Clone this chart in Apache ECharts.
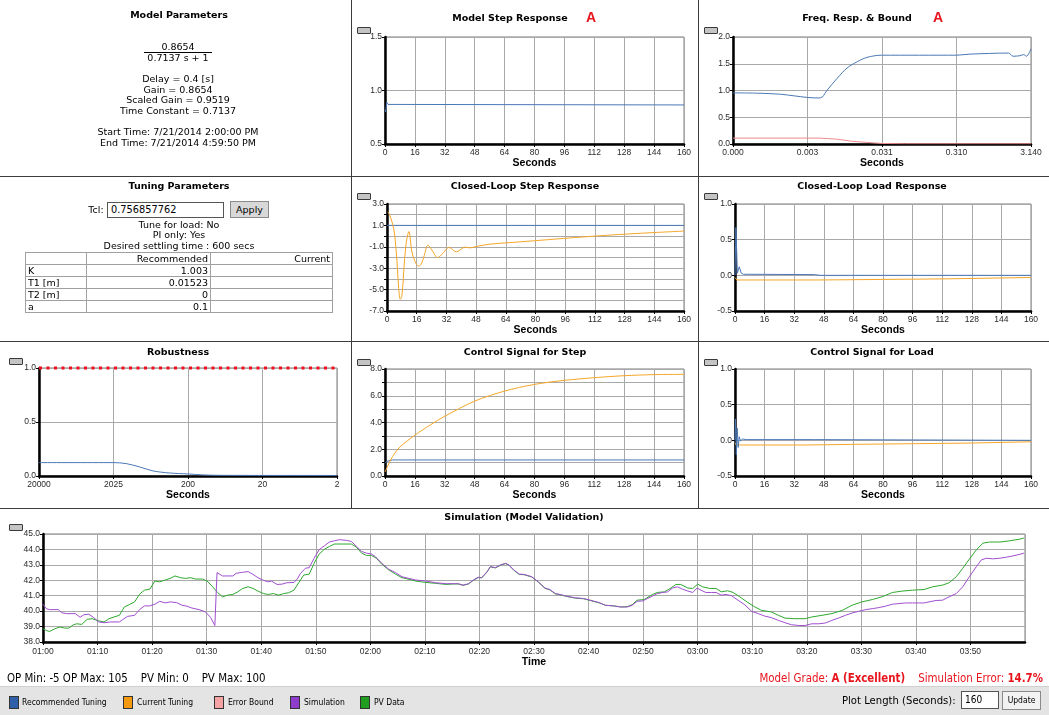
<!DOCTYPE html>
<html>
<head>
<meta charset="utf-8">
<title>Model Validation</title>
<script src="https://cdn.jsdelivr.net/npm/echarts@6/dist/echarts.min.js"></script>
<style>
  html, body { margin:0; padding:0; background:#fff; }
  #page { position:relative; width:1049px; height:715px; overflow:hidden;
          font-family:"DejaVu Sans", Verdana, sans-serif; color:#000; }
  #chart { position:absolute; left:0; top:0; width:1049px; height:715px; }
  .lab { position:absolute; white-space:nowrap; transform:translate(-50%,-50%); font-size:9.5px; line-height:1; }
  .ttl { font-weight:bold; font-size:9.5px; }
  .grade { color:#e8141c; font-family:"Liberation Sans", Arial, sans-serif; font-weight:bold; font-size:14px; }
  .vline { position:absolute; width:1px; background:#3c3c3c; }
  .hline { position:absolute; height:1px; background:#3c3c3c; }
  .btn { position:absolute; width:12px; height:5px; background:#c4c4c4; border:1px solid #3a3a3a; border-radius:1px; }
  #tune { position:absolute; left:25px; top:252px; width:308px; border-collapse:collapse; font-size:9.5px; }
  #tune td { border:1px solid #a0a0a0; height:11px; line-height:11px; padding:0 2px; }
  #tune td.n { text-align:right; }
  .box { position:absolute; background:#fff; border:1px solid #555; box-sizing:border-box; }
  .pbtn { position:absolute; background:#d8d8d8; border:1px solid #8a8a8a; box-sizing:border-box; text-align:center; }
  #bar { position:absolute; left:0; top:686px; width:1049px; height:29px; background:#e4e4e4; border-top:1px solid #d0d0d0; }
  .sw { position:absolute; top:9px; width:8px; height:11px; border:1px solid #333; }
  .lg { position:absolute; top:9px; font-family:"DejaVu Sans Condensed","DejaVu Sans",sans-serif; font-size:8.5px; line-height:13px; white-space:nowrap; }
  .info { position:absolute; top:672px; font-family:"DejaVu Sans Condensed","DejaVu Sans",sans-serif; font-size:11.4px; line-height:13px; white-space:nowrap; }
</style>
</head>
<body>
<div id="page">
  <div id="chart"></div>

  <!-- panel separators -->
  <div class="vline" style="left:351px;top:0;height:508px;"></div>
  <div class="vline" style="left:698px;top:0;height:508px;"></div>
  <div class="hline" style="left:0;top:176px;width:1049px;"></div>
  <div class="hline" style="left:0;top:341px;width:1049px;"></div>
  <div class="hline" style="left:0;top:508px;width:1049px;"></div>

  <!-- model parameters -->
  <div class="lab ttl" style="left:179px;top:15px;">Model Parameters</div>
  <div class="lab" style="left:178px;top:47px;">0.8654</div>
  <div class="hline" style="left:144px;top:52px;width:68px;background:#000;"></div>
  <div class="lab" style="left:178px;top:58px;">0.7137 s + 1</div>
  <div class="lab" style="left:178px;top:79px;">Delay = 0.4 [s]</div>
  <div class="lab" style="left:178px;top:89.5px;">Gain = 0.8654</div>
  <div class="lab" style="left:178px;top:100px;">Scaled Gain = 0.9519</div>
  <div class="lab" style="left:178px;top:110.5px;">Time Constant = 0.7137</div>
  <div class="lab" style="left:178px;top:132px;">Start Time: 7/21/2014 2:00:00 PM</div>
  <div class="lab" style="left:178px;top:142.5px;">End Time: 7/21/2014 4:59:50 PM</div>

  <!-- tuning parameters -->
  <div class="lab ttl" style="left:179px;top:186px;">Tuning Parameters</div>
  <div class="lab" style="left:96px;top:210px;">Tcl:</div>
  <div class="box" style="left:107px;top:202px;width:117px;height:16px;font-size:9.8px;line-height:14px;padding-left:3px;">0.756857762</div>
  <div class="pbtn" style="left:230px;top:201px;width:39px;height:17px;font-size:9.5px;line-height:15px;">Apply</div>
  <div class="lab" style="left:179px;top:224.5px;">Tune for load: No</div>
  <div class="lab" style="left:179px;top:235px;">PI only: Yes</div>
  <div class="lab" style="left:179px;top:245.5px;">Desired settling time : 600 secs</div>
  <table id="tune">
    <tr><td style="width:56px;"></td><td class="n" style="width:119px;">Recommended</td><td class="n">Current</td></tr>
    <tr><td>K</td><td class="n">1.003</td><td></td></tr>
    <tr><td>T1 [m]</td><td class="n">0.01523</td><td></td></tr>
    <tr><td>T2 [m]</td><td class="n">0</td><td></td></tr>
    <tr><td>a</td><td class="n">0.1</td><td></td></tr>
  </table>

  <!-- chart titles -->
  <div class="lab ttl" style="left:510px;top:18px;">Model Step Response</div>
  <div class="lab grade" style="left:591px;top:17px;">A</div>
  <div class="lab ttl" style="left:857px;top:18px;">Freq. Resp. &amp; Bound</div>
  <div class="lab grade" style="left:938px;top:17px;">A</div>
  <div class="lab ttl" style="left:525px;top:186px;">Closed-Loop Step Response</div>
  <div class="lab ttl" style="left:872px;top:186px;">Closed-Loop Load Response</div>
  <div class="lab ttl" style="left:178px;top:352px;">Robustness</div>
  <div class="lab ttl" style="left:525px;top:352px;">Control Signal for Step</div>
  <div class="lab ttl" style="left:872px;top:352px;">Control Signal for Load</div>
  <div class="lab ttl" style="left:524px;top:517px;">Simulation (Model Validation)</div>

  <!-- small toggle buttons -->
  <div class="btn" style="left:357px;top:27px;"></div>
  <div class="btn" style="left:704px;top:27px;"></div>
  <div class="btn" style="left:357px;top:193px;"></div>
  <div class="btn" style="left:704px;top:193px;"></div>
  <div class="btn" style="left:9px;top:358px;"></div>
  <div class="btn" style="left:357px;top:359px;"></div>
  <div class="btn" style="left:704px;top:359px;"></div>
  <div class="btn" style="left:9px;top:524px;"></div>

  <!-- footer -->
  <div class="info" style="left:7px;">OP Min: -5 OP Max: 105&nbsp;&nbsp;&nbsp; PV Min: 0&nbsp;&nbsp;&nbsp; PV Max: 100</div>
  <div class="info" style="right:6px;color:#e8141c;">Model Grade: <b>A (Excellent)</b>&nbsp;&nbsp;&nbsp; Simulation Error: <b>14.7%</b></div>
  <div id="bar">
    <div class="sw" style="left:9px;background:#2f5fa8;"></div><div class="lg" style="left:22px;">Recommended Tuning</div>
    <div class="sw" style="left:123px;background:#f39a12;"></div><div class="lg" style="left:137px;">Current Tuning</div>
    <div class="sw" style="left:214px;background:#f5a3a3;"></div><div class="lg" style="left:228px;">Error Bound</div>
    <div class="sw" style="left:290px;background:#8d3ccc;"></div><div class="lg" style="left:304px;">Simulation</div>
    <div class="sw" style="left:360px;background:#1f9e1f;"></div><div class="lg" style="left:374px;">PV Data</div>
    <div class="lg" style="left:842px;top:6px;font-size:11.2px;line-height:15px;">Plot Length (Seconds):</div>
    <div class="box" style="left:961px;top:4px;width:38px;height:18px;font-size:10px;line-height:16px;padding-left:3px;font-family:'DejaVu Sans Condensed',sans-serif;">160</div>
    <div class="pbtn" style="left:1002px;top:4px;width:39px;height:19px;font-size:8.5px;line-height:17px;background:#f2f2f2;font-family:'DejaVu Sans Condensed',sans-serif;">Update</div>
  </div>
</div>

<script>
// ---- tick labels ----
const freqTicks = ['0.000', '0.003', '0.031', '0.310', '3.140'];
const robustTicks = ['20000', '2025', '200', '20', '2'];

// ---- model step response (t [s], output) ----
const modelStep = [[0, 0.82], [0.4, 0.80], [0.9, 0.89], [1.6, 0.87], [2.6, 0.865], [160, 0.865]];

// ---- frequency response & bound (decade index, magnitude) ----
const freqResp = [[0, 0.956], [0.33, 0.95], [0.64, 0.93], [0.82, 0.9], [1.0, 0.87], [1.15, 0.86], [1.2, 0.88],
  [1.26, 1.0], [1.4, 1.23], [1.53, 1.42], [1.67, 1.54], [1.8, 1.62], [1.99, 1.66], [2.5, 1.66], [3.0, 1.66],
  [3.18, 1.68], [3.7, 1.70], [3.76, 1.64], [3.85, 1.65], [3.9, 1.67], [3.94, 1.64], [4.0, 1.78]];
const freqBound = [[0, 0.11], [1.17, 0.11], [1.4, 0.09], [1.6, 0.05], [1.8, 0.03], [1.99, 0.01], [2.3, 0.004], [4.0, 0.004]];

// ---- closed-loop step response ----
const clStepRec = [[0, 1.0], [160, 1.0]];
const clStepCur = [[0.5, 2.28], [1.8, 1.8], [3.6, 0.72], [4.5, -0.53], [5.4, -2.4], [6.3, -4.9], [7.2, -5.9],
  [8.1, -5.5], [9.0, -3.3], [10.2, -0.85], [11.8, 0.42], [13.4, -1.47], [15.2, -2.4], [17.0, -2.8], [18.5, -2.6],
  [20.1, -1.8], [22.0, -0.85], [24.2, -1.3], [27.2, -2.0], [29.6, -1.7], [33.5, -1.06], [37.3, -1.47],
  [42.1, -1.03], [44.8, -1.1], [48, -0.97], [55.6, -0.75], [64.5, -0.63], [79, -0.44], [95, -0.22],
  [112, 0.0], [129, 0.19], [145, 0.34], [160, 0.47]];

// ---- closed-loop load response ----
const clLoadRec = [[0, 0], [0.5, 0.67], [1.3, 0.03], [2.3, 0.12], [3.4, 0.03], [4.5, 0.015], [43, 0.01], [46, 0], [160, 0]];
const clLoadCur = [[0, -0.03], [1, -0.065], [46, -0.065], [47, -0.05], [113, -0.05], [114, -0.03], [160, -0.03]];

// ---- robustness ----
const robustVal = [[0, 0.124], [1.0, 0.124], [1.17, 0.115], [1.35, 0.084], [1.53, 0.047], [1.75, 0.028],
  [2.0, 0.019], [2.2, 0.01], [2.5, 0.006], [4.0, 0.005]];
const robustLimit = [[0, 1], [4, 1]];

// ---- control signal for step ----
const ctlStepRec = [[0, 0.95], [1, 1.1], [2, 1.15], [4, 1.2], [160, 1.2]];
const ctlStepCur = [[0, 0.3], [2, 0.9], [4, 1.45], [8, 2.17], [16, 3.05], [24, 3.8], [32, 4.47], [48, 5.6],
  [64, 6.35], [80, 6.85], [96, 7.15], [112, 7.35], [128, 7.5], [144, 7.58], [160, 7.6]];

// ---- control signal for load ----
const ctlLoadRec = [[0, 0], [0.3, 0.3], [0.7, -0.2], [1.2, 0.17], [1.7, -0.1], [2.3, 0.05], [3, -0.01],
  [4, 0.02], [6, 0.01], [43, 0.01], [44, 0], [160, 0]];
const ctlLoadCur = [[0, -0.03], [0.5, -0.065], [39, -0.065], [40, -0.056], [66, -0.056], [67, -0.038],
  [128, -0.038], [129, -0.02], [160, -0.02]];

// ---- simulation vs PV data (minutes after 01:00, value) ----
const simValues = [[0, 40.45], [0.6, 40.16], [1.2, 40.1], [2.8, 40.1], [3.4, 39.9], [4.3, 39.84], [5.9, 39.84],
  [6.8, 39.6], [7.5, 39.77], [8.4, 39.8], [9.3, 39.58], [10.2, 39.3], [11.2, 39.25], [12.4, 39.3], [14, 39.3],
  [14.6, 39.45], [15.5, 39.66], [16.8, 39.73], [17.7, 40.1], [18.6, 40.34], [19.6, 40.34], [20.5, 40.45],
  [21.4, 40.64], [22.4, 40.53], [23.3, 40.6], [24.5, 40.55], [25.5, 40.38], [26.4, 40.32], [27.3, 40.2],
  [28.6, 40.1], [29.8, 39.95], [30.7, 39.6], [31.5, 39.07], [31.9, 42.5], [32.2, 42.4], [32.9, 42.28],
  [33.9, 42.28], [34.8, 42.28], [35.4, 42.45], [36.6, 42.52], [37.6, 42.56], [38.5, 42.38], [39.4, 42.17],
  [40.4, 42.0], [41.3, 41.9], [41.9, 41.95], [42.9, 41.73], [43.8, 41.75], [44.7, 41.84], [46, 41.86],
  [46.6, 42.08], [47.2, 42.45], [48.1, 42.78], [48.8, 42.82], [49.7, 43.43], [50.6, 43.98], [51.6, 44.24],
  [52.5, 44.48], [53.4, 44.56], [54.3, 44.63], [55.6, 44.59], [56.5, 44.52], [57.5, 44.19], [58.4, 43.87],
  [59.3, 43.76], [60.2, 43.7], [60.9, 43.54], [62.1, 43.1], [63.4, 42.71], [64.6, 42.5], [65.8, 42.23],
  [67.1, 42.12], [68.3, 42.02], [70.2, 41.95], [72, 41.84], [73.9, 41.78], [75.2, 41.78], [76.1, 41.78],
  [77, 41.69], [78, 41.78], [78.9, 42.02], [79.8, 42.2], [80.4, 42.17], [81.4, 42.56], [82, 42.89],
  [82.9, 42.82], [83.9, 43.0], [84.8, 43.1], [85.4, 43.0], [86.3, 42.67], [87.3, 42.4], [88.2, 42.38],
  [89.6, 42.23], [90.8, 41.9], [92, 41.5], [92.9, 41.4], [93.9, 41.14], [94.8, 41.08], [96, 40.97],
  [97.6, 40.86], [99.1, 40.82], [100.3, 40.71], [101.9, 40.56], [103.1, 40.38], [104.6, 40.34],
  [105.9, 40.27], [107.1, 40.27], [108, 40.38], [108.9, 40.64], [109.9, 40.66], [110.8, 40.82],
  [111.7, 40.97], [112.6, 41.14], [113.6, 41.21], [114.5, 41.25], [115.4, 41.5], [116.3, 41.58],
  [117.2, 41.43], [118.2, 41.3], [119.1, 41.21], [119.9, 41.5], [120.6, 41.36], [121.5, 41.21],
  [122.5, 41.21], [123.4, 41.21], [124.3, 41.04], [125.2, 41.08], [126.2, 41.0], [127.4, 40.71],
  [128.6, 40.42], [129.9, 39.99], [131.1, 39.84], [132.3, 39.68], [133.5, 39.58], [134.8, 39.4],
  [136, 39.25], [137.2, 39.12], [138.5, 39.07], [139.7, 39.07], [140.9, 39.18], [142.2, 39.18],
  [143.4, 39.23], [144.6, 39.4], [145.8, 39.55], [147.1, 39.73], [148.3, 39.88], [149.5, 39.99],
  [150.8, 40.1], [152, 40.16], [153.2, 40.23], [154.4, 40.32], [155.7, 40.45], [156.9, 40.49],
  [158.1, 40.53], [159.4, 40.53], [160.6, 40.53], [161.5, 40.53], [162.4, 40.6], [163.7, 40.69],
  [164.9, 40.71], [166.1, 40.93], [167.4, 41.14], [168.6, 41.58], [169.8, 42.23], [171.1, 42.89],
  [172, 43.32], [172.9, 43.43], [174.1, 43.39], [175.4, 43.43], [176.6, 43.5], [177.8, 43.58],
  [179.1, 43.69], [179.8, 43.76]];
const pvValues = [[0, 38.86], [0.6, 38.75], [1.2, 38.68], [2.2, 38.86], [3.1, 38.97], [4, 38.9], [4.7, 38.9],
  [5.6, 39.12], [6.2, 39.18], [7.1, 39.14], [8.1, 39.47], [9, 39.51], [9.9, 39.4], [10.6, 39.34], [11.2, 39.3],
  [12.1, 39.51], [13, 39.62], [14, 39.73], [14.9, 40.27], [15.8, 40.42], [16.8, 40.6], [17.7, 41.1],
  [18.6, 41.36], [19.6, 41.43], [20.5, 41.95], [21.4, 41.9], [22.4, 42.02], [23.3, 42.12], [24.2, 42.28],
  [25.2, 42.17], [26.1, 42.12], [27, 42.17], [28, 42.08], [29.2, 42.08], [30.1, 41.95], [31.1, 41.58],
  [32, 41.21], [32.9, 40.93], [33.9, 41.04], [34.8, 41.08], [35.7, 41.25], [36.6, 41.47], [37.6, 41.58],
  [38.5, 41.47], [39.4, 41.3], [40.4, 41.14], [41.3, 41.08], [42.2, 41.14], [43.2, 41.04], [44.1, 41.14],
  [45, 41.19], [46, 41.36], [46.9, 41.86], [47.8, 42.34], [48.8, 42.4], [49.7, 43.1], [50.6, 43.69],
  [51.6, 44.02], [52.5, 44.19], [53.4, 44.35], [54.7, 44.35], [56.5, 44.35], [57.5, 44.13], [58.4, 43.76],
  [59.3, 43.61], [60.2, 43.61], [61.1, 43.43], [62.1, 43.04], [63.4, 42.67], [64.6, 42.4], [65.8, 42.17],
  [67.1, 42.06], [68.3, 41.95], [70.2, 41.86], [72, 41.8], [73.9, 41.73], [75.2, 41.76], [76.1, 41.76],
  [77, 41.67], [78, 41.76], [78.9, 42.0], [79.8, 42.18], [80.4, 42.15], [81.4, 42.54], [82, 42.87],
  [82.9, 42.8], [83.9, 42.98], [84.8, 43.08], [85.4, 42.98], [86.3, 42.65], [87.3, 42.38], [88.2, 42.36],
  [89.6, 42.21], [90.8, 41.88], [92, 41.48], [92.9, 41.38], [93.9, 41.12], [94.8, 41.06], [96, 40.95],
  [97.6, 40.84], [99.1, 40.8], [100.3, 40.69], [101.9, 40.54], [103.1, 40.38], [104.6, 40.34],
  [105.9, 40.27], [107.1, 40.29], [108, 40.42], [108.9, 40.71], [110.2, 40.75], [111.7, 41.08],
  [112.6, 41.21], [113.9, 41.25], [115.1, 41.5], [116, 41.73], [116.9, 41.73], [118.2, 41.5],
  [119.1, 41.47], [120, 41.75], [120.9, 41.58], [122.2, 41.47], [123.4, 41.47], [124.3, 41.25],
  [125.5, 41.32], [126.5, 41.21], [127.7, 40.93], [129.2, 40.56], [130.5, 40.27], [131.7, 40.05],
  [133.5, 39.95], [134.8, 39.73], [136, 39.55], [137.8, 39.51], [139.7, 39.51], [140.9, 39.62],
  [142.8, 39.73], [144.6, 39.84], [146.5, 40.05], [148.3, 40.38], [150.1, 40.6], [152, 40.75],
  [153.8, 40.93], [155.7, 41.21], [157.5, 41.3], [159.4, 41.36], [161.5, 41.4], [163.1, 41.58],
  [164.9, 41.69], [166.1, 41.84], [167.4, 42.23], [168.6, 42.78], [169.8, 43.37], [171.1, 43.98],
  [172.3, 44.41], [173.5, 44.48], [175.4, 44.48], [177.2, 44.56], [179.1, 44.67], [179.8, 44.74]];

// ---- styling ----
const AX_FONT = '"Liberation Sans", Arial, sans-serif';
const C_REC = '#4a78b6', C_CUR = '#f5a628', C_BOUND = '#f08a8a', C_SIM = '#a04fd0', C_PV = '#2ea82e';
const GRID_LINE = '#a9a9a9';

const grids = [
  { left: 385, top: 37, width: 299, height: 107 },   // 0 model step
  { left: 733, top: 37, width: 298, height: 107 },   // 1 freq resp
  { left: 387, top: 204, width: 297, height: 107 },  // 2 closed-loop step
  { left: 735, top: 204, width: 296, height: 107 },  // 3 closed-loop load
  { left: 39, top: 368, width: 298, height: 108 },   // 4 robustness
  { left: 385, top: 369, width: 299, height: 107 },  // 5 control step
  { left: 735, top: 369, width: 296, height: 107 },  // 6 control load
  { left: 43, top: 534, width: 982, height: 108 }    // 7 simulation
].map(g => Object.assign({ show: true, borderColor: '#7c7c7c', borderWidth: 1, backgroundColor: '#fff',
  containLabel: false, outerBoundsMode: 'none' }, g));

function xAxis(gi, o) {
  return {
    gridIndex: gi, type: 'value', min: o.min, max: o.max, interval: o.interval,
    name: o.name || 'Seconds', nameLocation: 'middle', nameGap: o.nameGap || 12,
    nameTextStyle: { fontFamily: AX_FONT, fontWeight: 'bold', fontSize: 10.5, color: '#000' },
    axisLine: { show: true, onZero: false, lineStyle: { color: '#000', width: 2.5 } },
    axisTick: { show: true, length: 3, lineStyle: { color: '#000', width: 1 } },
    axisLabel: { show: true, fontFamily: AX_FONT, fontSize: 8.5, color: '#2a2a2a', margin: o.margin || 4,
      formatter: o.fmt, showMinLabel: true, showMaxLabel: o.showMax !== false, hideOverlap: false },
    splitLine: { show: true, lineStyle: { color: GRID_LINE, width: 1 } }
  };
}
function yAxis(gi, o) {
  return {
    gridIndex: gi, type: 'value', min: o.min, max: o.max, interval: o.interval,
    axisLine: { show: true, onZero: false, lineStyle: { color: '#000', width: 2.5 } },
    axisTick: { show: true, length: 3, lineStyle: { color: '#000', width: 1 } },
    axisLabel: { show: true, fontFamily: AX_FONT, fontSize: 8.5, color: '#2a2a2a', margin: 3,
      formatter: o.fmt || (v => v.toFixed(1)), showMinLabel: true, showMaxLabel: true, hideOverlap: false },
    splitLine: { show: true, lineStyle: { color: GRID_LINE, width: 1 } }
  };
}
function line(gi, data, color, extra) {
  return Object.assign({
    type: 'line', xAxisIndex: gi, yAxisIndex: gi, data: data, showSymbol: false, symbol: 'none',
    smooth: false, animation: false, lineStyle: { color: color, width: 1 }, silent: true
  }, extra || {});
}
const clock = v => {
  const m = v + 60;
  return String(Math.floor(m / 60)).padStart(2, '0') + ':' + String(m % 60).padStart(2, '0');
};

const option = {
  animation: false,
  grid: grids,
  xAxis: [
    xAxis(0, { min: 0, max: 160, interval: 16 }),
    xAxis(1, { min: 0, max: 4, interval: 1, fmt: v => freqTicks[v] }),
    xAxis(2, { min: 0, max: 160, interval: 16 }),
    xAxis(3, { min: 0, max: 160, interval: 16 }),
    xAxis(4, { min: 0, max: 4, interval: 1, fmt: v => robustTicks[v] }),
    xAxis(5, { min: 0, max: 160, interval: 16 }),
    xAxis(6, { min: 0, max: 160, interval: 16 }),
    xAxis(7, { min: 0, max: 180, interval: 10, fmt: clock, name: 'Time', showMax: false, margin: 5 })
  ],
  yAxis: [
    yAxis(0, { min: 0.5, max: 1.5, interval: 0.5 }),
    yAxis(1, { min: 0, max: 2, interval: 0.5 }),
    yAxis(2, { min: -7, max: 3, interval: 1, fmt: v => (Math.round(v) % 2 !== 0 ? v.toFixed(1) : '') }),
    yAxis(3, { min: -0.5, max: 1, interval: 0.5 }),
    yAxis(4, { min: 0, max: 1, interval: 0.5 }),
    yAxis(5, { min: 0, max: 8, interval: 1, fmt: v => (Math.round(v) % 2 === 0 ? v.toFixed(1) : '') }),
    yAxis(6, { min: -0.5, max: 1, interval: 0.5 }),
    yAxis(7, { min: 38, max: 45, interval: 1 })
  ],
  series: [
    line(0, modelStep, C_REC),
    line(1, freqBound, C_BOUND),
    line(1, freqResp, C_REC, { smooth: 0.3 }),
    line(2, clStepRec, C_REC),
    line(2, clStepCur, C_CUR, { smooth: 0.35 }),
    line(3, clLoadCur, C_CUR),
    line(3, clLoadRec, C_REC),
    line(4, robustVal, C_REC, { smooth: 0.3 }),
    line(4, robustLimit, '#ee1020', { clip: false, lineStyle: { color: '#ee1020', width: 3, type: [3, 4.5] }, z: 5 }),
    line(5, ctlStepRec, C_REC),
    line(5, ctlStepCur, C_CUR, { smooth: 0.3 }),
    line(6, ctlLoadCur, C_CUR),
    line(6, ctlLoadRec, C_REC),
    line(7, pvValues, C_PV),
    line(7, simValues, C_SIM)
  ]
};

const chart = echarts.init(document.getElementById('chart'), null, { renderer: 'canvas', width: 1049, height: 715 });
chart.setOption(option);
</script>
</body>
</html>
